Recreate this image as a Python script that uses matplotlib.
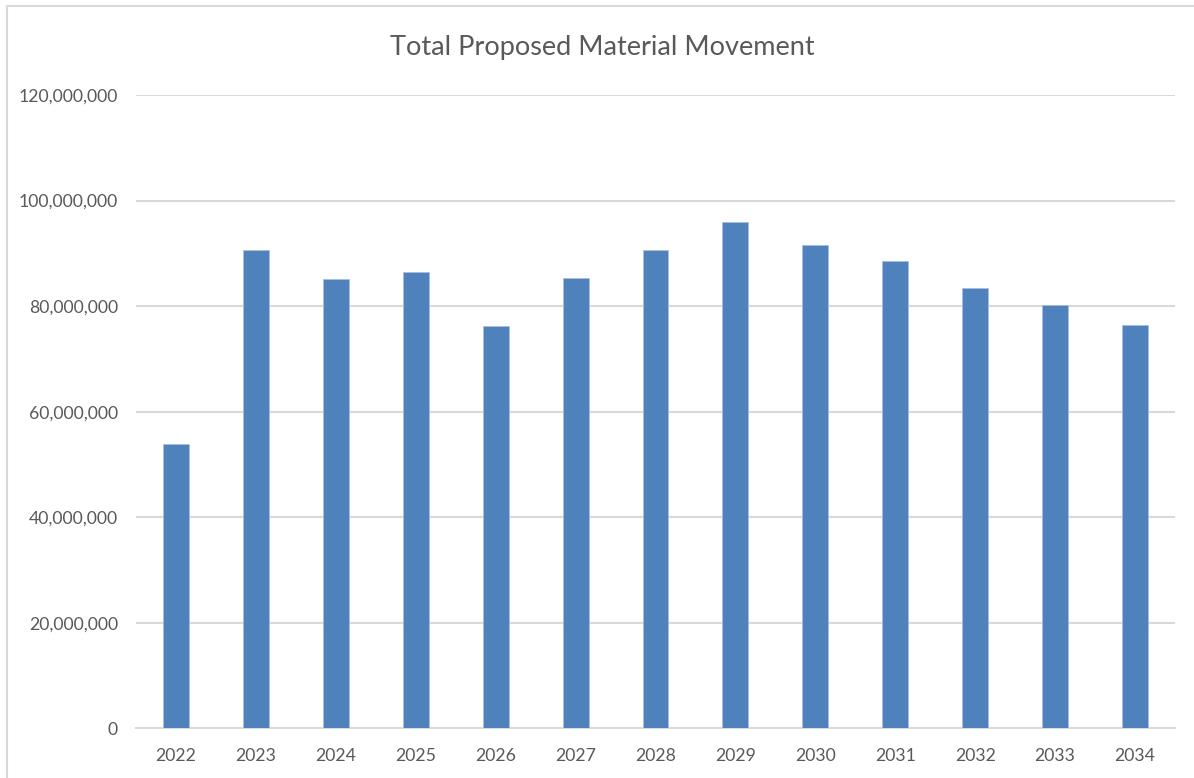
import matplotlib.pyplot as plt
from matplotlib.patches import Rectangle
from matplotlib.ticker import FuncFormatter

# %% Style
TEXT_COLOR = "#595959"
GRID_COLOR = "#D9D9D9"
BAR_COLOR = "#4F81BD"
plt.rcParams["font.family"] = ["Lato", "DejaVu Sans"]

# %% Data
years = ["2022", "2023", "2024", "2025", "2026", "2027", "2028",
         "2029", "2030", "2031", "2032", "2033", "2034"]
movement = [53.9e6, 90.7e6, 85.2e6, 86.4e6, 76.2e6, 85.4e6, 90.7e6,
            96.0e6, 91.6e6, 88.6e6, 83.4e6, 80.2e6, 76.4e6]

# %% Plot
W, H = 1194, 778
fig = plt.figure(figsize=(W / 100, H / 100), dpi=100)
ax = fig.add_axes([136 / W, (H - 728.3) / H, (1175 - 136) / W, (728.3 - 95) / H])

# chart frame (Excel style, cut off at right / bottom)
fig.patches.append(Rectangle((7 / W, -0.1), 1.2, (H - 6.5) / H + 0.1,
                             transform=fig.transFigure, fill=False,
                             edgecolor=GRID_COLOR, linewidth=1.5))

x = range(len(years))
ax.bar(x, movement, width=0.325, color=BAR_COLOR, edgecolor="#A7BFDE",
       linewidth=0.6, zorder=3)

ax.set_xlim(-0.5, len(years) - 0.5)
ax.set_ylim(0, 120e6)
ax.set_yticks([i * 20e6 for i in range(7)])
ax.yaxis.set_major_formatter(FuncFormatter(lambda v, p: f"{v:,.0f}"))
ax.set_xticks(list(x))
ax.set_xticklabels(years)

ax.grid(True, axis="y", color=GRID_COLOR, linewidth=1.5, zorder=0)
for s in ["top", "right", "left"]:
    ax.spines[s].set_visible(False)
ax.spines["bottom"].set_color(GRID_COLOR)
ax.spines["bottom"].set_linewidth(1.5)
ax.tick_params(axis="both", length=0, colors=TEXT_COLOR, labelsize=12.7)
ax.tick_params(axis="y", pad=13)
ax.tick_params(axis="x", pad=14)

fig.text(602 / W, (H - 48) / H, "Total Proposed Material Movement",
         ha="center", va="center", fontsize=19.5, color=TEXT_COLOR)

fig.savefig("out.png", dpi=100)
